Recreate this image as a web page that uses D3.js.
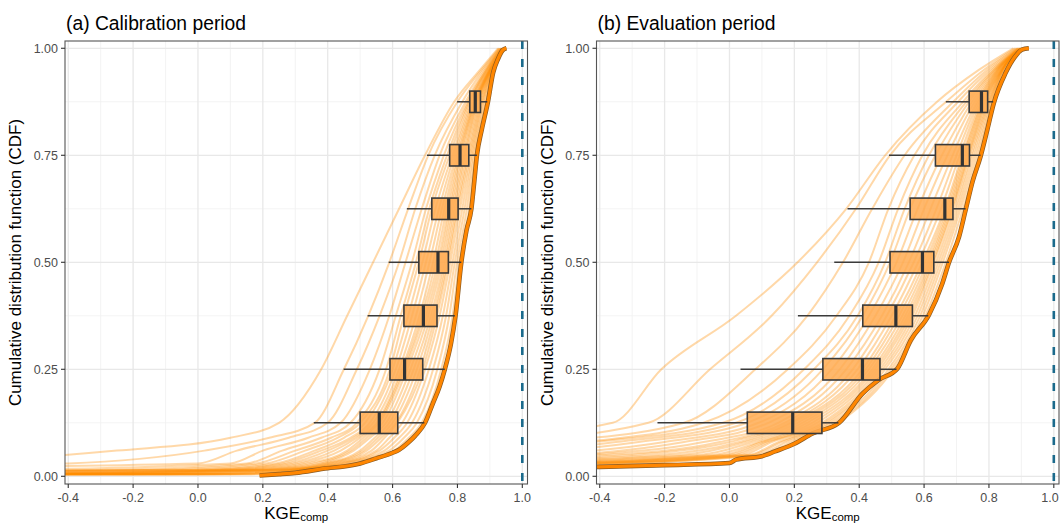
<!DOCTYPE html>
<html><head><meta charset="utf-8">
<script src="https://cdn.jsdelivr.net/npm/d3@7"></script>
<style>
body{margin:0;background:#fff}
svg{display:block}
text{font-family:"Liberation Sans", Arial, Helvetica, sans-serif}
</style>
</head><body>
<svg id="chart" width="1061" height="524"></svg>
<script>
// ---------------- DATA ----------------
const xTickValues = [-0.4, -0.2, 0.0, 0.2, 0.4, 0.6, 0.8, 1.0];
const xTickLabels = ["-0.4", "-0.2", "0.0", "0.2", "0.4", "0.6", "0.8", "1.0"];
const yTickValues = [0, 0.25, 0.5, 0.75, 1.0];
const yTickLabels = ["0.00", "0.25", "0.50", "0.75", "1.00"];
const panelTitles = ["(a) Calibration period", "(b) Evaluation period"];
const boxLevels = [0.125, 0.25, 0.375, 0.5, 0.625, 0.75, 0.875];

// (a) calibration: KGE value of each thin CDF curve at each CDF level
const calLevels = [0.002, 0.005, 0.015, 0.03, 0.06, 0.09, 0.125, 0.25, 0.375, 0.5, 0.625, 0.75, 0.875, 0.95, 1.0];
const calQuantileX = [
  [-4, -4, -4, -4, -4, -4, -4, -4, -4, -4, -4, -4, -4, -4, -4, -4, -4, -4, -4, -4, -4, -4, -4, -4],
  [-3.5, -3.2, -3, -2.5, -2.2, -2, -1.8, -1.6, -1.4, -1.2, -1, -0.9, -0.8, -0.7, -0.6, -0.5, -0.35, -0.2, -0.1, 0, 0.05, 0.1, 0.15, 0.2],
  [-2, -1.5, -1.5, -0.6, -0.3, -0.15, -0.05, 0.0, 0.04, 0.08, 0.11, 0.14, 0.17, 0.19, 0.21, 0.23, 0.25, 0.27, 0.28, 0.29, 0.3, 0.31, 0.32, 0.33],
  [-0.9, -0.4, 0.0, 0.1, 0.15, 0.18, 0.21, 0.24, 0.26, 0.28, 0.3, 0.32, 0.34, 0.36, 0.38, 0.39, 0.4, 0.41, 0.42, 0.43, 0.44, 0.45, 0.46, 0.48],
  [-0.25, 0.02, 0.12, 0.2, 0.26, 0.3, 0.33, 0.36, 0.38, 0.4, 0.42, 0.44, 0.46, 0.47, 0.48, 0.5, 0.51, 0.52, 0.535, 0.55, 0.56, 0.575, 0.59, 0.605],
  [0.1, 0.22, 0.28, 0.34, 0.38, 0.41, 0.43, 0.45, 0.47, 0.48, 0.49, 0.5, 0.51, 0.52, 0.53, 0.545, 0.555, 0.565, 0.575, 0.59, 0.605, 0.62, 0.635, 0.65],
  [0.25, 0.36, 0.40, 0.44, 0.47, 0.49, 0.50, 0.515, 0.53, 0.54, 0.55, 0.555, 0.56, 0.57, 0.58, 0.59, 0.60, 0.61, 0.615, 0.63, 0.645, 0.66, 0.675, 0.69],
  [0.38, 0.45, 0.49, 0.53, 0.56, 0.58, 0.592, 0.60, 0.61, 0.62, 0.628, 0.633, 0.638, 0.645, 0.655, 0.665, 0.675, 0.685, 0.693, 0.70, 0.712, 0.725, 0.738, 0.75],
  [0.46, 0.525, 0.56, 0.59, 0.61, 0.625, 0.635, 0.648, 0.66, 0.672, 0.683, 0.69, 0.696, 0.703, 0.71, 0.718, 0.725, 0.731, 0.737, 0.745, 0.755, 0.765, 0.775, 0.785],
  [0.54, 0.59, 0.62, 0.64, 0.66, 0.672, 0.681, 0.692, 0.703, 0.714, 0.725, 0.733, 0.74, 0.746, 0.752, 0.758, 0.763, 0.768, 0.772, 0.778, 0.785, 0.792, 0.799, 0.806],
  [0.62, 0.648, 0.67, 0.69, 0.703, 0.713, 0.721, 0.732, 0.743, 0.752, 0.76, 0.767, 0.773, 0.778, 0.783, 0.788, 0.793, 0.798, 0.802, 0.808, 0.815, 0.822, 0.829, 0.836],
  [0.70, 0.71, 0.73, 0.745, 0.758, 0.768, 0.776, 0.784, 0.79, 0.796, 0.801, 0.805, 0.809, 0.813, 0.818, 0.822, 0.826, 0.831, 0.835, 0.839, 0.843, 0.847, 0.851, 0.855],
  [0.79, 0.80, 0.815, 0.825, 0.831, 0.835, 0.838, 0.842, 0.846, 0.849, 0.852, 0.854, 0.856, 0.858, 0.86, 0.862, 0.865, 0.868, 0.871, 0.874, 0.877, 0.88, 0.884, 0.888],
  [0.87, 0.875, 0.88, 0.885, 0.888, 0.89, 0.892, 0.894, 0.896, 0.898, 0.899, 0.90, 0.901, 0.902, 0.903, 0.904, 0.905, 0.906, 0.907, 0.908, 0.909, 0.91, 0.911, 0.912],
  [0.925, 0.928, 0.93, 0.932, 0.934, 0.935, 0.936, 0.937, 0.938, 0.939, 0.94, 0.9405, 0.941, 0.9415, 0.942, 0.943, 0.9435, 0.944, 0.945, 0.9455, 0.946, 0.947, 0.948, 0.95]
];
// highlighted curve (a): KGE and CDF
const calBestX = [0.19, 0.25, 0.3, 0.4, 0.45, 0.5, 0.55, 0.6, 0.62, 0.65, 0.67, 0.70, 0.724, 0.745, 0.761, 0.78, 0.794, 0.812, 0.828, 0.843, 0.852, 0.86, 0.875, 0.894, 0.91, 0.925, 0.94, 0.951];
const calBestF = [0.002, 0.005, 0.008, 0.019, 0.023, 0.03, 0.042, 0.055, 0.062, 0.08, 0.095, 0.125, 0.17, 0.21, 0.25, 0.31, 0.375, 0.5, 0.575, 0.625, 0.69, 0.75, 0.81, 0.875, 0.943, 0.975, 0.996, 1.0];
// boxplots (a)
const calWhiskLo = [0.357, 0.449, 0.523, 0.588, 0.644, 0.706, 0.799];
const calQ1      = [0.500, 0.592, 0.635, 0.681, 0.721, 0.776, 0.838];
const calMedian  = [0.559, 0.637, 0.695, 0.740, 0.773, 0.808, 0.855];
const calQ3      = [0.616, 0.693, 0.737, 0.772, 0.802, 0.835, 0.871];
const calWhiskHi = [0.698, 0.761, 0.792, 0.812, 0.843, 0.860, 0.892];

// (b) evaluation
const evaLevels = [0.025, 0.05, 0.08, 0.125, 0.25, 0.375, 0.5, 0.625, 0.75, 0.875, 0.95, 1.0];
const evaQuantileX = [
  [-3, -2.8, -2.6, -2.4, -2.2, -2, -1.9, -1.8, -1.7, -1.6, -1.5, -1.4, -1.3, -1.2, -1.1, -1.0, -0.9, -0.85, -0.8, -0.75, -0.7, -0.65, -0.6, -0.55],
  [-1.5, -1.3, -1.1, -1.0, -0.9, -0.8, -0.7, -0.6, -0.5, -0.45, -0.38, -0.3, -0.22, -0.15, -0.1, -0.05, -0.02, 0.0, 0.02, 0.04, 0.06, 0.07, 0.085, 0.1],
  [-0.9, -0.7, -0.55, -0.45, -0.42, -0.35, -0.28, -0.2, -0.14, -0.08, -0.03, 0.0, 0.03, 0.05, 0.07, 0.09, 0.1, 0.11, 0.12, 0.13, 0.15, 0.16, 0.175, 0.19],
  [-0.36, -0.25, -0.14, -0.08, -0.02, 0.02, 0.055, 0.09, 0.12, 0.15, 0.17, 0.185, 0.195, 0.21, 0.225, 0.24, 0.255, 0.27, 0.285, 0.295, 0.305, 0.315, 0.325, 0.335],
  [-0.21, -0.06, 0.08, 0.18, 0.23, 0.26, 0.288, 0.315, 0.34, 0.36, 0.38, 0.395, 0.41, 0.42, 0.43, 0.44, 0.448, 0.456, 0.464, 0.472, 0.48, 0.49, 0.498, 0.506],
  [0.02, 0.13, 0.24, 0.33, 0.37, 0.395, 0.411, 0.43, 0.45, 0.47, 0.485, 0.5, 0.513, 0.523, 0.533, 0.542, 0.55, 0.557, 0.564, 0.572, 0.58, 0.588, 0.596, 0.604],
  [0.21, 0.27, 0.35, 0.43, 0.46, 0.48, 0.495, 0.515, 0.535, 0.553, 0.568, 0.582, 0.595, 0.603, 0.61, 0.616, 0.621, 0.626, 0.63, 0.637, 0.644, 0.651, 0.658, 0.667],
  [0.36, 0.39, 0.44, 0.49, 0.52, 0.54, 0.557, 0.58, 0.6, 0.62, 0.638, 0.652, 0.664, 0.669, 0.674, 0.678, 0.682, 0.686, 0.689, 0.695, 0.701, 0.707, 0.713, 0.72],
  [0.48, 0.495, 0.54, 0.57, 0.595, 0.615, 0.635, 0.655, 0.672, 0.688, 0.7, 0.71, 0.718, 0.722, 0.726, 0.73, 0.734, 0.737, 0.74, 0.745, 0.75, 0.756, 0.762, 0.768],
  [0.64, 0.668, 0.69, 0.705, 0.72, 0.73, 0.739, 0.748, 0.756, 0.763, 0.768, 0.773, 0.777, 0.78, 0.783, 0.786, 0.789, 0.792, 0.796, 0.799, 0.802, 0.805, 0.808, 0.811],
  [0.77, 0.785, 0.795, 0.803, 0.81, 0.815, 0.818, 0.821, 0.824, 0.826, 0.828, 0.83, 0.832, 0.834, 0.836, 0.838, 0.839, 0.84, 0.841, 0.842, 0.843, 0.844, 0.846, 0.848],
  [0.875, 0.88, 0.885, 0.888, 0.89, 0.892, 0.894, 0.896, 0.897, 0.898, 0.899, 0.9, 0.901, 0.902, 0.903, 0.904, 0.905, 0.906, 0.907, 0.908, 0.909, 0.91, 0.912, 0.915]
];
const evaBestX = [-0.6, -0.4, -0.2, 0.0, 0.02, 0.1, 0.14, 0.2, 0.256, 0.338, 0.41, 0.46, 0.518, 0.559, 0.615, 0.656, 0.677, 0.708, 0.728, 0.75, 0.774, 0.795, 0.815, 0.851, 0.88, 0.902, 0.923];
const evaBestF = [0.02, 0.022, 0.026, 0.031, 0.039, 0.047, 0.058, 0.076, 0.1, 0.125, 0.193, 0.225, 0.252, 0.318, 0.377, 0.45, 0.5, 0.56, 0.622, 0.69, 0.747, 0.81, 0.872, 0.942, 0.98, 0.997, 1.0];
const evaWhiskLo = [-0.222, 0.034, 0.211, 0.323, 0.364, 0.492, 0.667];
const evaQ1      = [0.055, 0.288, 0.411, 0.495, 0.557, 0.635, 0.739];
const evaMedian  = [0.195, 0.410, 0.513, 0.595, 0.664, 0.718, 0.777];
const evaQ3      = [0.285, 0.464, 0.564, 0.630, 0.689, 0.740, 0.796];
const evaWhiskHi = [0.336, 0.515, 0.613, 0.677, 0.728, 0.774, 0.813];

// ---------------- DRAW ----------------
const svg = d3.select("#chart");
const W = 1061;
const plotTop = 41, plotBottom = 484;
const xDomain = [-0.41, 1.016];
const yDomain = [-0.018, 1.017];
const xMinor = [-0.3, -0.1, 0.1, 0.3, 0.5, 0.7, 0.9];
const yMinor = [0.125, 0.375, 0.625, 0.875];

const panels = [
  {title: panelTitles[0], left: 65, right: 527.5, levels: calLevels, qx: calQuantileX,
   bestX: calBestX, bestF: calBestF,
   lo: calWhiskLo, q1: calQ1, med: calMedian, q3: calQ3, hi: calWhiskHi},
  {title: panelTitles[1], left: 596.5, right: 1059, levels: evaLevels, qx: evaQuantileX,
   bestX: evaBestX, bestF: evaBestF,
   lo: evaWhiskLo, q1: evaQ1, med: evaMedian, q3: evaQ3, hi: evaWhiskHi}
];

const defs = svg.append("defs");

panels.forEach((p, pi) => {
  const x = d3.scaleLinear().domain(xDomain).range([p.left, p.right]);
  const y = d3.scaleLinear().domain(yDomain).range([plotBottom, plotTop]);
  const g = svg.append("g");
  const clipId = "clip" + pi;
  defs.append("clipPath").attr("id", clipId).append("rect")
    .attr("x", p.left).attr("y", plotTop)
    .attr("width", p.right - p.left).attr("height", plotBottom - plotTop);

  // grid
  const grid = g.append("g");
  grid.selectAll(".xmin").data(xMinor).join("line")
    .attr("x1", d => x(d)).attr("x2", d => x(d)).attr("y1", plotTop).attr("y2", plotBottom)
    .attr("stroke", "#f0f0f0").attr("stroke-width", 0.8);
  grid.selectAll(".ymin").data(yMinor).join("line")
    .attr("y1", d => y(d)).attr("y2", d => y(d)).attr("x1", p.left).attr("x2", p.right)
    .attr("stroke", "#f0f0f0").attr("stroke-width", 0.8);
  grid.selectAll(".xmaj").data(xTickValues).join("line")
    .attr("x1", d => x(d)).attr("x2", d => x(d)).attr("y1", plotTop).attr("y2", plotBottom)
    .attr("stroke", "#e8e8e8").attr("stroke-width", 1.3);
  grid.selectAll(".ymaj").data(yTickValues).join("line")
    .attr("y1", d => y(d)).attr("y2", d => y(d)).attr("x1", p.left).attr("x2", p.right)
    .attr("stroke", "#e8e8e8").attr("stroke-width", 1.3);

  // thin curves
  const nCurves = p.qx[0].length;
  const curves = d3.range(nCurves).map(ci => p.levels.map((lv, li) => [p.qx[li][ci], lv]));
  const line = d3.line().x(d => x(d[0])).y(d => y(d[1])).curve(d3.curveMonotoneX);
  const data = g.append("g").attr("clip-path", `url(#${clipId})`);
  data.selectAll(".thin").data(curves).join("path")
    .attr("d", line).attr("fill", "none")
    .attr("stroke", "#ff8c00").attr("stroke-opacity", 0.34).attr("stroke-width", 2);

  // highlighted curve
  const best = p.bestX.map((v, i) => [v, p.bestF[i]]);
  data.append("path").attr("d", line(best)).attr("fill", "none")
    .attr("stroke", "#8a5a22").attr("stroke-width", 4.6).attr("stroke-linejoin", "round");
  data.append("path").attr("d", line(best)).attr("fill", "none")
    .attr("stroke", "#ff8600").attr("stroke-width", 3.2).attr("stroke-linejoin", "round");

  // boxplots
  const bh = 0.025;
  const bx = g.append("g");
  boxLevels.forEach((lv, i) => {
    const cy = y(lv);
    bx.append("line").attr("x1", x(p.lo[i])).attr("x2", x(p.q1[i])).attr("y1", cy).attr("y2", cy)
      .attr("stroke", "#3a3a3a").attr("stroke-width", 1.5);
    bx.append("line").attr("x1", x(p.q3[i])).attr("x2", x(p.hi[i])).attr("y1", cy).attr("y2", cy)
      .attr("stroke", "#3a3a3a").attr("stroke-width", 1.5);
    bx.append("rect").attr("x", x(p.q1[i])).attr("width", x(p.q3[i]) - x(p.q1[i]))
      .attr("y", y(lv + bh)).attr("height", y(lv - bh) - y(lv + bh))
      .attr("fill", "#ffac52").attr("fill-opacity", 0.85)
      .attr("stroke", "#3a3a3a").attr("stroke-width", 1.6);
    bx.append("line").attr("x1", x(p.med[i])).attr("x2", x(p.med[i]))
      .attr("y1", y(lv + bh)).attr("y2", y(lv - bh))
      .attr("stroke", "#333").attr("stroke-width", 3.2);
  });

  // dashed reference at KGE = 1
  g.append("line").attr("x1", x(1)).attr("x2", x(1)).attr("y1", plotTop).attr("y2", plotBottom)
    .attr("stroke", "#1b6a8c").attr("stroke-width", 2.6).attr("stroke-dasharray", "8,10");

  // border
  g.append("rect").attr("x", p.left).attr("y", plotTop)
    .attr("width", p.right - p.left).attr("height", plotBottom - plotTop)
    .attr("fill", "none").attr("stroke", "#555").attr("stroke-width", 1.1);

  // x ticks
  const ax = g.append("g");
  ax.selectAll(".xt").data(xTickValues).join("line")
    .attr("x1", d => x(d)).attr("x2", d => x(d)).attr("y1", plotBottom).attr("y2", plotBottom + 4)
    .attr("stroke", "#333").attr("stroke-width", 1.1);
  ax.selectAll(".xl").data(xTickValues).join("text")
    .attr("x", d => Math.min(x(d), W - 11)).attr("y", 501.5).attr("text-anchor", "middle")
    .attr("font-size", 12.5).attr("fill", "#4d4d4d")
    .text((d, i) => xTickLabels[i]);
  // y ticks
  ax.selectAll(".yt").data(yTickValues).join("line")
    .attr("y1", d => y(d)).attr("y2", d => y(d)).attr("x1", p.left - 4).attr("x2", p.left)
    .attr("stroke", "#333").attr("stroke-width", 1.1);
  ax.selectAll(".yl").data(yTickValues).join("text")
    .attr("x", p.left - 7).attr("y", d => y(d)).attr("dy", "0.35em").attr("text-anchor", "end")
    .attr("font-size", 12.5).attr("fill", "#4d4d4d")
    .text((d, i) => yTickLabels[i]);

  // titles
  g.append("text").attr("x", p.left + 1).attr("y", 29.5).attr("font-size", 19.3).attr("fill", "#000")
    .text(p.title);
  g.append("text").attr("transform", `translate(${p.left - 44},${(plotTop + plotBottom) / 2}) rotate(-90)`)
    .attr("text-anchor", "middle").attr("font-size", 17).attr("fill", "#000")
    .text("Cumulative distribution function (CDF)");
  const xt = g.append("text").attr("x", (p.left + p.right) / 2).attr("y", 518.5)
    .attr("text-anchor", "middle").attr("fill", "#000");
  xt.append("tspan").attr("font-size", 17).text("KGE");
  xt.append("tspan").attr("font-size", 11.5).attr("dy", 2.5).text("comp");
});
</script>
</body></html>
